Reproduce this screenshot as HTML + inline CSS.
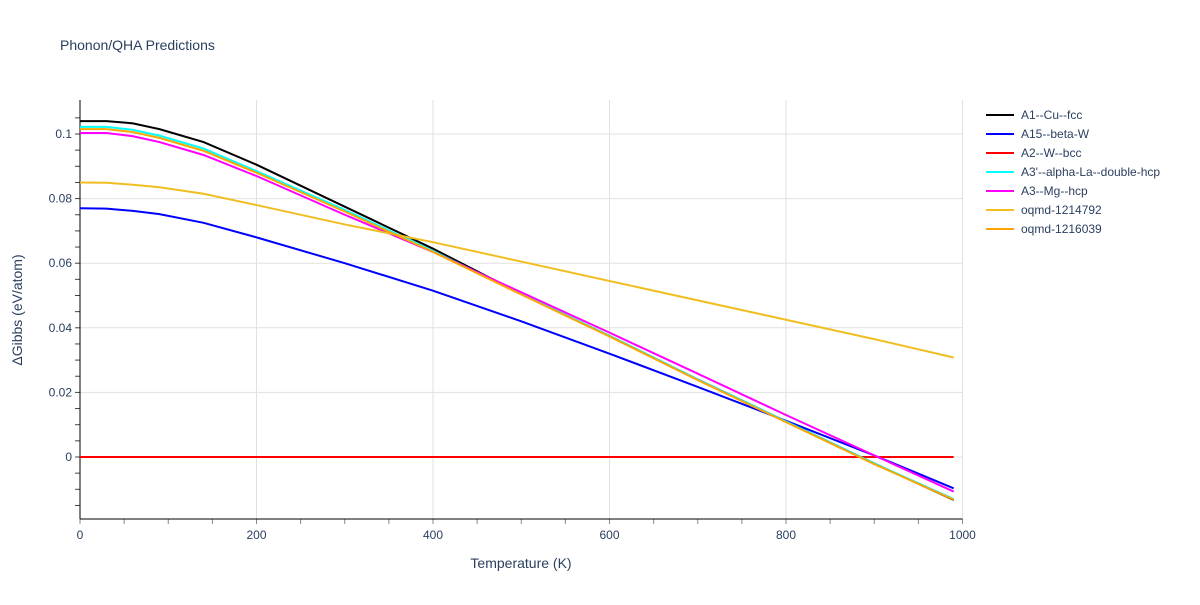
<!DOCTYPE html>
<html><head><meta charset="utf-8"><style>
body{margin:0;background:#fff;font-family:"Liberation Sans",sans-serif;}
svg text{font-family:"Liberation Sans",sans-serif;fill:#2a3f5f;}
</style></head><body>
<svg id="chart" width="1200" height="600" xmlns="http://www.w3.org/2000/svg">
<rect width="1200" height="600" fill="#fff"/>
<text x="60" y="50" font-size="14">Phonon/QHA Predictions</text>
<g id="grid"></g><g id="axes"></g><g id="series"></g><g id="legend"></g>
<text x="521" y="568" font-size="14" text-anchor="middle">Temperature (K)</text>
<text transform="translate(22,310) rotate(-90)" font-size="14" text-anchor="middle">ΔGibbs (eV/atom)</text>
</svg>
<script>
const xTicks=[0,200,400,600,800,1000];
const yTicks=[0,0.02,0.04,0.06,0.08,0.1];
const yTickLabels=["0","0.02","0.04","0.06","0.08","0.1"];
const seriesNames=["A1--Cu--fcc","A15--beta-W","A2--W--bcc","A3'--alpha-La--double-hcp","A3--Mg--hcp","oqmd-1214792","oqmd-1216039"];
const seriesColors=["#000000","#0000ff","#ff0000","#00ffff","#ff00ff","#f0be20","#ffa500"];
const T=[0,30,60,90,140,200,300,400,500,600,700,800,900,990];
const cuFcc=[0.104,0.104,0.1033,0.1015,0.0975,0.0905,0.0775,0.0645,0.0505,0.0375,0.024,0.011,-0.002,-0.0133];
const betaW=[0.077,0.0769,0.0762,0.0752,0.0725,0.068,0.060,0.0515,0.042,0.032,0.0217,0.0112,0.0005,-0.0097];
const wBcc=[0,0,0,0,0,0,0,0,0,0,0,0,0,0];
const laDhcp=[0.1022,0.1022,0.1013,0.0995,0.0955,0.0885,0.0765,0.0638,0.0505,0.0375,0.024,0.011,-0.002,-0.013];
const mgHcp=[0.1003,0.1003,0.0993,0.0975,0.0935,0.087,0.075,0.0635,0.051,0.0385,0.0258,0.013,0.0005,-0.0107];
const oqmd1214792=[0.085,0.0849,0.0843,0.0835,0.0815,0.078,0.072,0.0665,0.0605,0.0545,0.0485,0.0425,0.0365,0.0308];
const oqmd1216039=[0.1015,0.1015,0.1006,0.0988,0.0948,0.088,0.076,0.0635,0.0503,0.0373,0.0238,0.0108,-0.0022,-0.0132];
const allSeries=[cuFcc,betaW,wBcc,laDhcp,mgHcp,oqmd1214792,oqmd1216039];
const L=80,R=962.5,TOP=100,B=519,Y0=457,YS=3230;
const xs=v=>L+v/1000*(R-L);
const ys=v=>Y0-v*YS;
const NS="http://www.w3.org/2000/svg";
function mk(tag,attrs,parent){const e=document.createElementNS(NS,tag);for(const k in attrs)e.setAttribute(k,attrs[k]);parent.appendChild(e);return e;}
const grid=document.getElementById('grid'),axes=document.getElementById('axes'),ser=document.getElementById('series'),leg=document.getElementById('legend');
xTicks.forEach(t=>{if(t>0){const g=mk('line',{x1:xs(t),x2:xs(t),y1:TOP,y2:B,stroke:'#e1e1e1'},grid);

}
const lb=mk('text',{x:xs(t),y:B+20,'font-size':12,'text-anchor':'middle'},axes);lb.textContent=t;

});
for(let t=0;t<=1000;t+=50){mk('line',{x1:xs(t),x2:xs(t),y1:B,y2:B+5,stroke:'#888'},axes);}
yTicks.forEach((t,i)=>{const g=mk('line',{x1:L,x2:R,y1:ys(t),y2:ys(t),stroke:'#e1e1e1'},grid);


const lb=mk('text',{x:L-8,y:ys(t)+4,'font-size':12,'text-anchor':'end'},axes);lb.textContent=yTickLabels[i];

});
for(let t=-0.015;t<=0.11;t+=0.005){mk('line',{x1:L-5,x2:L,y1:ys(t),y2:ys(t),stroke:'#444'},axes);}
const ya=mk('line',{x1:L,x2:L,y1:TOP,y2:B,stroke:'#000'},axes);


const xa=mk('line',{x1:L,x2:R,y1:B,y2:B,stroke:'#000'},axes);


allSeries.forEach((d,i)=>{const pts=T.map((t,j)=>xs(t)+','+ys(d[j])).join(' ');
const p=mk('polyline',{points:pts,fill:'none',stroke:seriesColors[i],'stroke-width':2},ser);


const y=115+i*19;
const g=mk('g',{},leg);


mk('line',{x1:986,x2:1014,y1:y,y2:y,stroke:seriesColors[i],'stroke-width':2},g);
const tx=mk('text',{x:1021,y:y+4,'font-size':12},g);tx.textContent=seriesNames[i];});
</script>
</body></html>
